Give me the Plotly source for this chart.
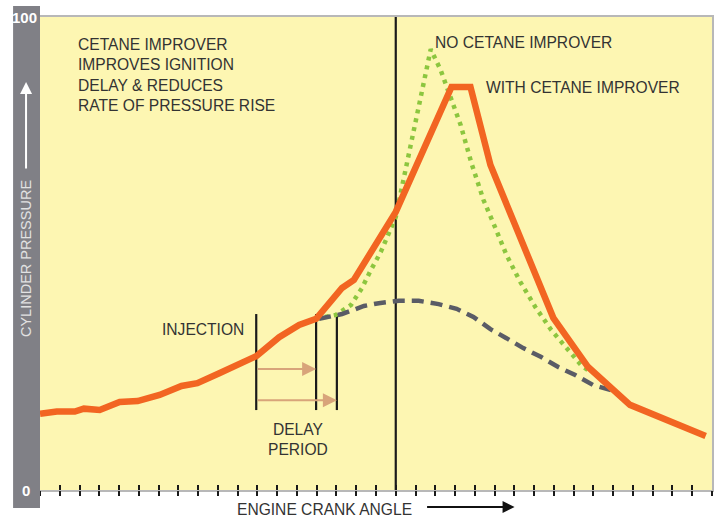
import plotly.graph_objects as go

# Crank angle in tick units, TDC = 0 ; pressure in % of full scale
TICKS = list(range(-18, 17))

WITH_X = [-18.0, -17.15, -16.24, -15.78, -14.98, -13.97, -13.06, -11.95, -10.84, -10.04,
          -8.93, -7.06, -5.90, -4.89, -4.03, -2.72, -2.12, 0.0, 2.82, 3.78, 4.79, 7.97,
          9.73, 11.85, 15.68]
WITH_Y = [16.1, 16.6, 16.6, 17.2, 16.9, 18.6, 18.8, 20.1, 22.0, 22.6,
          24.7, 28.3, 32.3, 34.9, 36.2, 42.7, 44.4, 58.8, 85.2, 85.2, 68.7, 36.4,
          26.0, 18.0, 11.4]

NO_X = [-4.03, -3.03, -2.27, -1.71, -1.26, -0.76, -0.35, 0.0, 0.25, 0.81, 1.31, 1.77,
        2.27, 2.77, 3.28, 3.83, 4.44, 5.04, 5.60, 6.30, 7.06, 7.87, 8.72, 9.38, 9.83]
NO_Y = [36.2, 37.0, 39.1, 42.7, 46.5, 50.3, 54.3, 57.7, 62.8, 74.4, 83.9, 93.2,
        88.8, 83.1, 77.2, 69.1, 61.3, 55.4, 49.7, 44.0, 38.7, 33.8, 29.6, 26.4, 25.0]

MOTOR_X = [-3.88, -2.72, -1.61, -0.86, 0.15, 1.16, 2.17, 3.08, 3.93, 4.79, 5.60, 6.45,
           7.36, 8.22, 9.08, 9.98, 10.89]
MOTOR_Y = [36.2, 37.2, 38.9, 39.5, 40.0, 40.0, 39.3, 38.3, 36.6, 34.0, 32.1, 30.0,
           28.1, 26.0, 24.3, 22.2, 21.1]

TDC = 0.0
INJECTION = -7.06
IGN_WITH = -4.03
IGN_WITHOUT = -2.98
MARK_LOW, MARK_HIGH = 16.9, 37.2
ARROW_Y = [25.6, 19.0]

LEFT_TEXT = ["CETANE IMPROVER", "IMPROVES IGNITION", "DELAY & REDUCES", "RATE OF PRESSURE RISE"]

FONT = "Liberation Sans, Arial, sans-serif"
TXT = "#333333"
FS = 15.6

fig = go.Figure()

# vertical marker lines
for xv, y0, y1 in [(TDC, 0, 100), (INJECTION, MARK_LOW, MARK_HIGH),
                   (IGN_WITH, MARK_LOW, MARK_HIGH), (IGN_WITHOUT, MARK_LOW, MARK_HIGH)]:
    fig.add_trace(go.Scatter(x=[xv, xv], y=[y0, y1], mode="lines",
                             line=dict(color="#1a1a1a", width=2.2),
                             hoverinfo="skip", showlegend=False))

fig.add_trace(go.Scatter(x=NO_X, y=NO_Y, mode="lines", name="No cetane improver",
                         line=dict(color="#8cc63f", width=4.5, dash="4px,5px"),
                         showlegend=False))
fig.add_trace(go.Scatter(x=MOTOR_X, y=MOTOR_Y, mode="lines", name="Motoring",
                         line=dict(color="#5a5c66", width=4.5, dash="12px,7px"),
                         showlegend=False))
fig.add_trace(go.Scatter(x=WITH_X, y=WITH_Y, mode="lines", name="With cetane improver",
                         line=dict(color="#f26522", width=6.5),
                         showlegend=False))
# dummy trace for the outer tick axis
fig.add_trace(go.Scatter(x=[TICKS[0], TICKS[-1]], y=[None, None], xaxis="x2",
                         mode="lines", hoverinfo="skip", showlegend=False))

ann = []
# delay arrows
for yv, xe in zip(ARROW_Y, [IGN_WITH, IGN_WITHOUT]):
    ann.append(dict(x=xe, y=yv, ax=INJECTION, ay=yv, xref="x", yref="y",
                    axref="x", ayref="y", showarrow=True, arrowhead=2,
                    arrowsize=1.4, arrowwidth=2, arrowcolor="#d8a47a", text=""))

ann.append(dict(x=-16.2, y=96.4, xref="x", yref="y", xanchor="left", yanchor="top",
                align="left", showarrow=False, text="<br>".join(LEFT_TEXT),
                font=dict(family=FONT, size=FS, color=TXT)))
ann.append(dict(x=1.9, y=94.6, xref="x", yref="y", xanchor="left", yanchor="middle",
                showarrow=False, text="NO CETANE IMPROVER",
                font=dict(family=FONT, size=FS, color=TXT)))
ann.append(dict(x=4.45, y=85.1, xref="x", yref="y", xanchor="left", yanchor="middle",
                showarrow=False, text="WITH CETANE IMPROVER",
                font=dict(family=FONT, size=FS, color=TXT)))
ann.append(dict(x=-11.95, y=34.0, xref="x", yref="y", xanchor="left", yanchor="middle",
                showarrow=False, text="INJECTION",
                font=dict(family=FONT, size=FS, color=TXT)))
ann.append(dict(x=-4.95, y=10.7, xref="x", yref="y", xanchor="center", yanchor="middle",
                showarrow=False, text="DELAY<br>PERIOD",
                font=dict(family=FONT, size=FS, color=TXT)))

# axis captions
ann.append(dict(x=(325 - 40) / 674, y=(490 - 509) / 473, xref="paper", yref="paper",
                xanchor="center", yanchor="middle", showarrow=False,
                text="ENGINE CRANK ANGLE", font=dict(family=FONT, size=FS, color=TXT)))
ann.append(dict(x=(516 - 40) / 674, y=(490 - 507) / 473, ax=-89, ay=0,
                xref="paper", yref="paper", axref="pixel", ayref="pixel",
                showarrow=True, arrowhead=2, arrowsize=1.2,
                arrowwidth=2, arrowcolor="#111111", text=""))
ann.append(dict(x=(26 - 40) / 674, y=(490 - 259) / 473, xref="paper", yref="paper",
                xanchor="center", yanchor="middle", showarrow=False, textangle=-90,
                text="CYLINDER PRESSURE", font=dict(family=FONT, size=14.5, color="#e2e2e2")))
ann.append(dict(x=(26 - 40) / 674, y=(490 - 82) / 473, ax=0, ay=88,
                xref="paper", yref="paper", axref="pixel", ayref="pixel",
                showarrow=True, arrowhead=2, arrowsize=1.2,
                arrowwidth=2, arrowcolor="#ffffff", text=""))
ann.append(dict(x=(39 - 40) / 674, y=1.0, xref="paper", yref="paper",
                xanchor="right", yanchor="middle", showarrow=False, text="<b>100</b>",
                font=dict(family=FONT, size=15, color="#ffffff")))
ann.append(dict(x=(26 - 40) / 674, y=-0.002, xref="paper", yref="paper",
                xanchor="center", yanchor="middle", showarrow=False, text="<b>0</b>",
                font=dict(family=FONT, size=15, color="#ffffff")))

shapes = [dict(type="rect", xref="paper", yref="paper",
               x0=(13 - 40) / 674, x1=0, y0=(490 - 508) / 473, y1=(490 - 6) / 473,
               fillcolor="#808086", line=dict(width=0), layer="above")]

fig.update_layout(
    width=719, height=517,
    margin=dict(l=40, r=5, t=17, b=27),
    paper_bgcolor="#ffffff",
    plot_bgcolor="#fdf6b2",
    annotations=ann,
    shapes=shapes,
    xaxis=dict(range=[TICKS[0], TICKS[-1]], tickvals=TICKS, showticklabels=False,
               ticks="inside", ticklen=5, tickwidth=2, tickcolor="#1a1a1a",
               showgrid=False, zeroline=False, showline=True, mirror=True,
               linecolor="#b8b8b8", linewidth=1.5),
    xaxis2=dict(range=[TICKS[0], TICKS[-1]], tickvals=TICKS, showticklabels=False,
                overlaying="x", anchor="y", side="bottom",
                ticks="outside", ticklen=5, tickwidth=2, tickcolor="#1a1a1a",
                showgrid=False, zeroline=False, showline=False),
    yaxis=dict(range=[0, 100], showticklabels=False, ticks="", showgrid=False,
               zeroline=False, showline=True, mirror=True, linecolor="#b8b8b8",
               linewidth=1.5),
)

fig.write_html("out.html", config={"displayModeBar": False},
               post_script="document.body.style.margin='0';")
